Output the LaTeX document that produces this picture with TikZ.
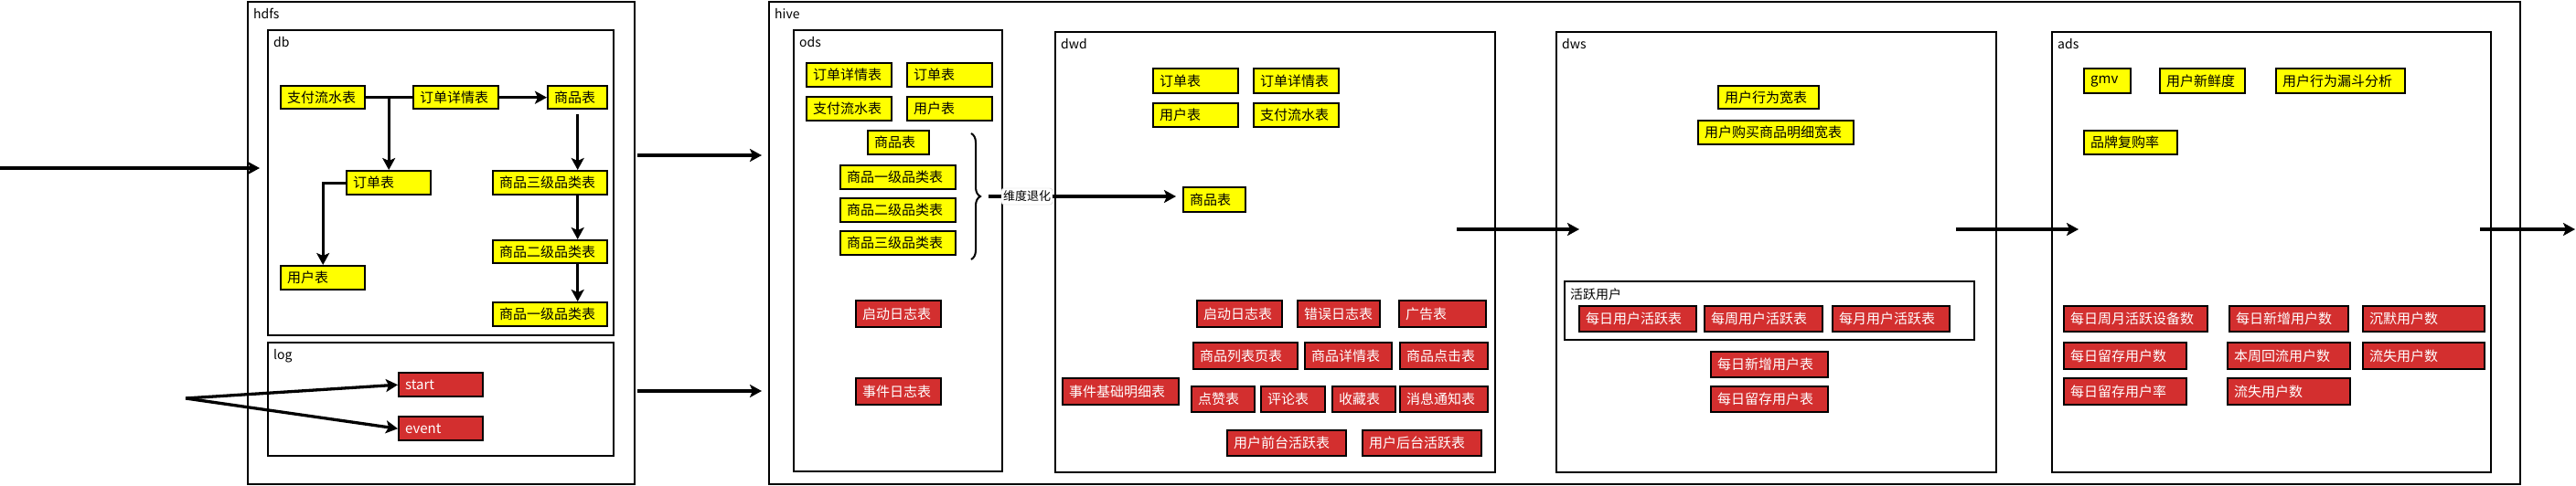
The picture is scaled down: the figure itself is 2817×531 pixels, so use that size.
\documentclass[tikz,border=0pt]{standalone}
\usepackage{fontspec}
\setmainfont{Noto Sans CJK SC}
\usetikzlibrary{arrows.meta,decorations.pathreplacing}
\definecolor{boxred}{RGB}{211,47,47}
\definecolor{boxyellow}{RGB}{255,255,0}
\tikzset{
  tbl/.style={draw=black, line width=2.4pt, inner xsep=7pt, inner ysep=0pt,
    font=\fontsize{15}{17}\selectfont, align=left},
  ytbl/.style={tbl, fill=boxyellow, text=black},
  rtbl/.style={tbl, fill=boxred, text=white},
  cont/.style={draw=black, line width=2.2pt, inner sep=0pt},
  ttl/.style={font=\fontsize{14}{16}\selectfont, inner sep=0pt, anchor=north west},
  arr/.style={line width=3.3pt, -{Stealth[length=13pt,width=14pt,inset=3pt]}},
  ln/.style={line width=3.3pt},
}
\newcommand\mkbox[7]{%
  \pgfmathsetmacro\mkw{#4-#2-14}%
  \pgfmathsetmacro\mkh{#5-#3}%
  \node[#6, text width=\mkw pt, minimum height=\mkh pt, anchor=north west] (#1) at (#2,#3) {#7};%
}
\newcommand\mkcont[6]{%
  \pgfmathsetmacro\mkw{#4-#2}%
  \pgfmathsetmacro\mkh{#5-#3}%
  \node[cont, minimum width=\mkw pt, minimum height=\mkh pt, anchor=north west] (#1) at (#2,#3) {};%
  \node[ttl] (#1-t) at ([shift={(7pt,-8pt)}]#1.north west) {#6};%
}
\begin{document}
\begin{tikzpicture}[x=1pt,y=-1pt]
\useasboundingbox (0,0) rectangle (2817,531);
\fill[white] (0,0) rectangle (2817,531);

% containers
\mkcont{hdfs}{270}{1}{693}{529}{hdfs}
\mkcont{db}{292}{32}{670}{366}{db}
\mkcont{log}{292}{374}{670}{498}{log}
\mkcont{hive}{840}{1}{2755}{529}{hive}
\mkcont{ods}{867}{32}{1095}{515}{ods}
\mkcont{dwd}{1153}{34}{1634}{516}{dwd}
\mkcont{dws}{1701}{34}{2182}{516}{dws}
\mkcont{ads}{2243}{34}{2723}{516}{ads}
\mkcont{act}{1710}{307}{2158}{371}{活跃用户}

% db
\mkbox{zf}{306}{93}{398}{118}{ytbl}{支付流水表}
\mkbox{ddxq}{451}{93}{544}{118}{ytbl}{订单详情表}
\mkbox{sp}{598}{93}{663}{118}{ytbl}{商品表}
\mkbox{dd}{378}{186}{470}{212}{ytbl}{订单表}
\mkbox{yh}{306}{290}{398}{316}{ytbl}{用户表}
\mkbox{sp3}{538}{186}{663}{212}{ytbl}{商品三级品类表}
\mkbox{sp2}{538}{262}{663}{287}{ytbl}{商品二级品类表}
\mkbox{sp1}{538}{330}{663}{356}{ytbl}{商品一级品类表}
% log
\mkbox{start}{435}{407}{527}{433}{rtbl}{start}
\mkbox{event}{435}{455}{527}{481}{rtbl}{event}

% ods
\mkbox{o-ddxq}{881}{68}{974}{94}{ytbl}{订单详情表}
\mkbox{o-dd}{991}{68}{1084}{94}{ytbl}{订单表}
\mkbox{o-zf}{881}{105}{974}{131}{ytbl}{支付流水表}
\mkbox{o-yh}{991}{105}{1084}{131}{ytbl}{用户表}
\mkbox{o-sp}{948}{142}{1015}{168}{ytbl}{商品表}
\mkbox{o-sp1}{918}{180}{1044}{206}{ytbl}{商品一级品类表}
\mkbox{o-sp2}{918}{216}{1044}{242}{ytbl}{商品二级品类表}
\mkbox{o-sp3}{918}{252}{1044}{278}{ytbl}{商品三级品类表}
\mkbox{o-qd}{935}{328}{1028}{357}{rtbl}{启动日志表}
\mkbox{o-sj}{935}{413}{1028}{442}{rtbl}{事件日志表}

% dwd
\mkbox{w-dd}{1260}{74}{1353}{101}{ytbl}{订单表}
\mkbox{w-ddxq}{1370}{74}{1463}{101}{ytbl}{订单详情表}
\mkbox{w-yh}{1260}{112}{1353}{138}{ytbl}{用户表}
\mkbox{w-zf}{1370}{112}{1463}{138}{ytbl}{支付流水表}
\mkbox{w-sp}{1293}{204}{1361}{231}{ytbl}{商品表}
\mkbox{w-qd}{1308}{328}{1401}{357}{rtbl}{启动日志表}
\mkbox{w-cw}{1418}{328}{1508}{357}{rtbl}{错误日志表}
\mkbox{w-gg}{1529}{328}{1624}{357}{rtbl}{广告表}
\mkbox{w-lb}{1304}{374}{1418}{403}{rtbl}{商品列表页表}
\mkbox{w-xq}{1426}{374}{1521}{403}{rtbl}{商品详情表}
\mkbox{w-dj}{1530}{374}{1626}{403}{rtbl}{商品点击表}
\mkbox{w-sj}{1161}{413}{1288}{442}{rtbl}{事件基础明细表}
\mkbox{w-dz}{1302}{422}{1371}{450}{rtbl}{点赞表}
\mkbox{w-pl}{1378}{422}{1448}{450}{rtbl}{评论表}
\mkbox{w-sc}{1456}{422}{1525}{450}{rtbl}{收藏表}
\mkbox{w-xx}{1530}{422}{1626}{450}{rtbl}{消息通知表}
\mkbox{w-qt}{1341}{470}{1471}{498}{rtbl}{用户前台活跃表}
\mkbox{w-ht}{1489}{470}{1619}{498}{rtbl}{用户后台活跃表}

% dws
\mkbox{s-xw}{1878}{93}{1988}{118}{ytbl}{用户行为宽表}
\mkbox{s-gm}{1856}{131}{2026}{157}{ytbl}{用户购买商品明细宽表}
\mkbox{s-r}{1726}{334}{1854}{362}{rtbl}{每日用户活跃表}
\mkbox{s-z}{1863}{334}{1992}{362}{rtbl}{每周用户活跃表}
\mkbox{s-y}{2003}{334}{2131}{362}{rtbl}{每月用户活跃表}
\mkbox{s-xz}{1870}{384}{1998}{412}{rtbl}{每日新增用户表}
\mkbox{s-lc}{1870}{422}{1998}{450}{rtbl}{每日留存用户表}

% ads
\mkbox{a-gmv}{2278}{74}{2329}{101}{ytbl}{gmv}
\mkbox{a-xxd}{2361}{74}{2454}{101}{ytbl}{用户新鲜度}
\mkbox{a-ld}{2488}{74}{2629}{101}{ytbl}{用户行为漏斗分析}
\mkbox{a-pp}{2278}{142}{2380}{168}{ytbl}{品牌复购率}
\mkbox{a-1}{2256}{334}{2413}{362}{rtbl}{每日周月活跃设备数}
\mkbox{a-2}{2437}{334}{2567}{362}{rtbl}{每日新增用户数}
\mkbox{a-3}{2583}{334}{2716}{362}{rtbl}{沉默用户数}
\mkbox{a-4}{2256}{374}{2390}{403}{rtbl}{每日留存用户数}
\mkbox{a-5}{2435}{374}{2569}{403}{rtbl}{本周回流用户数}
\mkbox{a-6}{2583}{374}{2716}{403}{rtbl}{流失用户数}
\mkbox{a-7}{2256}{413}{2390}{442}{rtbl}{每日留存用户率}
\mkbox{a-8}{2435}{413}{2569}{442}{rtbl}{流失用户数}

% db connectors
\coordinate (j1) at (dd.north |- zf.east);
\draw[ln] (zf.east) -- (ddxq.west);
\draw[arr] (j1) -- (dd.north);
\draw[arr] (ddxq.east) -- (sp.west);
\coordinate (spx) at ([yshift=-5pt]sp.south);
\draw[arr] (spx) -- (spx |- sp3.north);
\draw[arr] (spx |- sp3.south) -- (spx |- sp2.north);
\draw[arr] (spx |- sp2.south) -- (spx |- sp1.north);
\draw[arr] (dd.west) -| (yh.north);

% log connectors
\coordinate (lsrc) at (203,436);
\draw[arr] (lsrc) -- (start.west);
\draw[arr] (lsrc) -- (event.west);

% flow arrows
\coordinate (in0) at (0,184);
\coordinate (in1) at (284,184);
\draw[arr] (in0) -- (in1);
\coordinate (h1s) at (697,170);
\coordinate (h1e) at (833,170);
\draw[arr] (h1s) -- (h1e);
\coordinate (h2s) at (697,428);
\coordinate (h2e) at (833,428);
\draw[arr] (h2s) -- (h2e);
\coordinate (d1s) at (1593,251);
\coordinate (d1e) at (1727,251);
\draw[arr] (d1s) -- (d1e);
\coordinate (d2s) at (2139,251);
\coordinate (d2e) at (2273,251);
\draw[arr] (d2s) -- (d2e);
\coordinate (d3s) at (2712,251);
\coordinate (d3e) at (2816,251);
\draw[arr] (d3s) -- (d3e);

% brace and degradation
\draw[line width=2pt, decorate, decoration={brace, amplitude=10pt}] (1062,146) -- (1062,284);
\coordinate (bt) at (1081,215);
\node[draw=gray!40, rounded corners=3pt, fill=white, inner xsep=2pt, inner ysep=3pt,
  font=\fontsize{13}{15}\selectfont] (wd) at (1123,215) {维度退化};
\draw[ln] (bt) -- (wd.west);
\draw[arr, shorten >=7pt] (wd.east) -- (wd.east -| w-sp.west);
\end{tikzpicture}
\end{document}
